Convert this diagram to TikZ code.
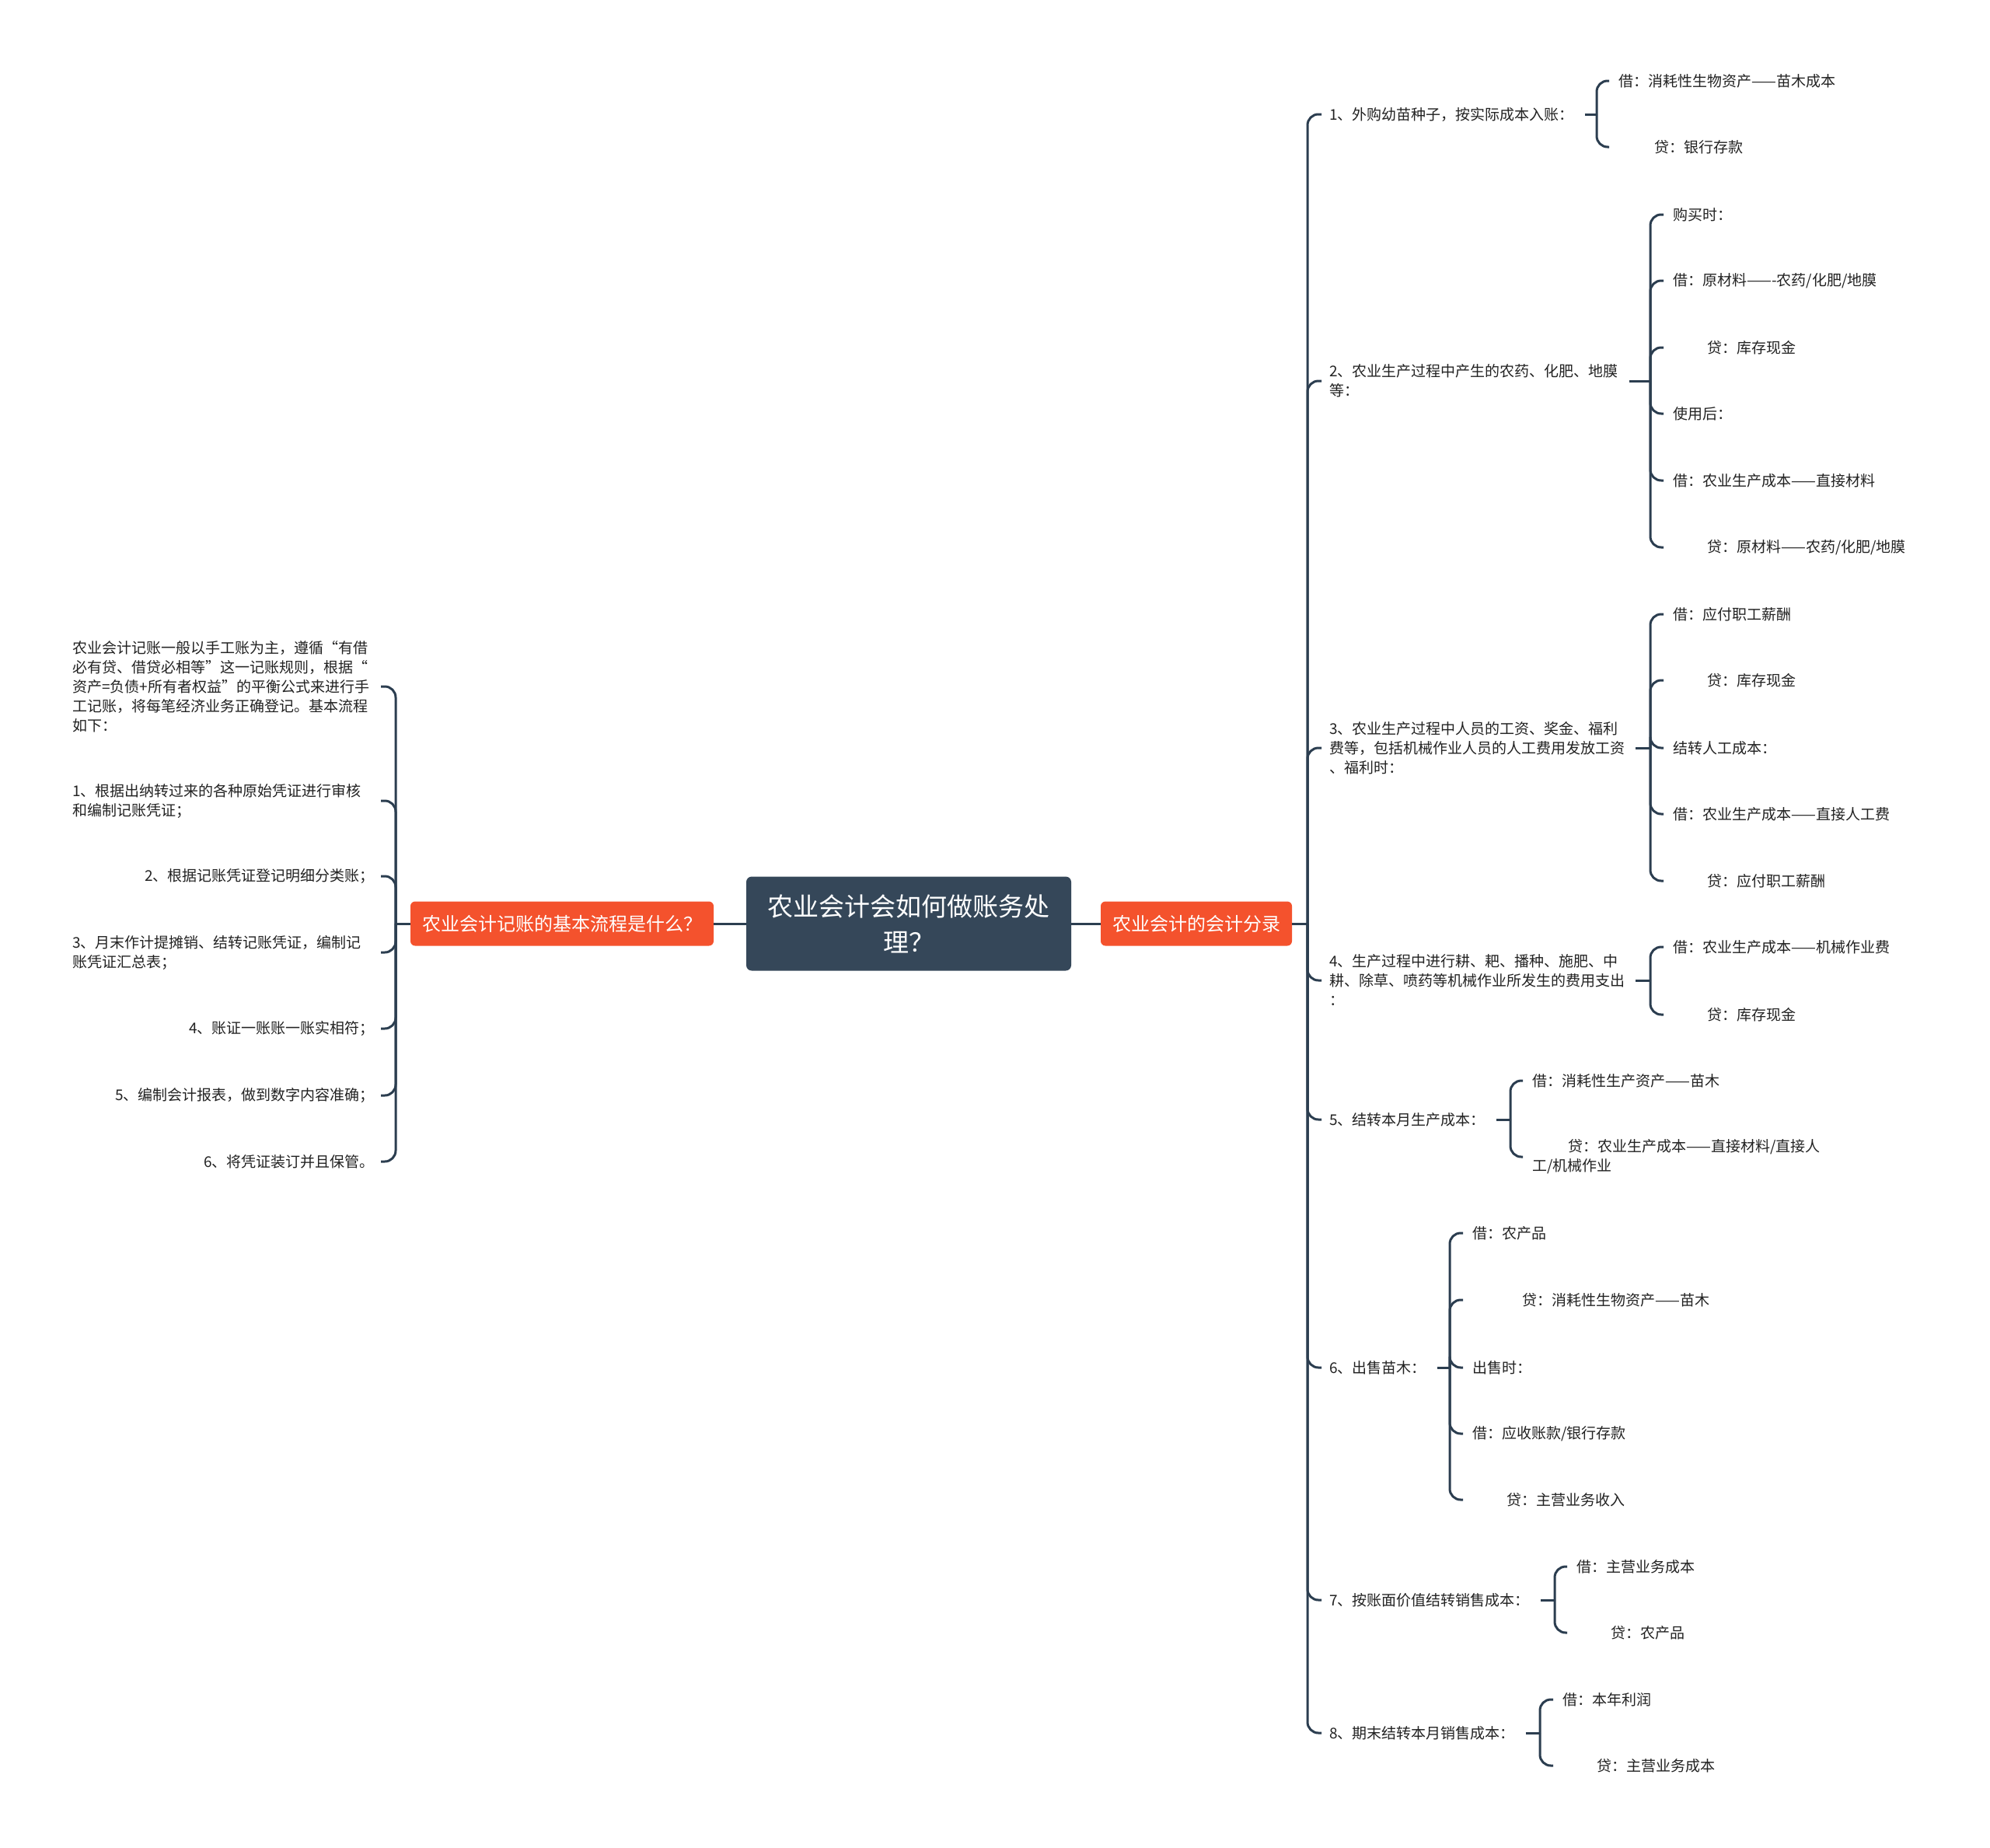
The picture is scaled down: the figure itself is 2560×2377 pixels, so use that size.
\documentclass[tikz,border=0pt]{standalone}
\usepackage{fontspec}
\setmainfont{Noto Sans CJK SC}
\usetikzlibrary{positioning, calc}
\definecolor{scuro}{RGB}{53,71,89}
\definecolor{arancio}{RGB}{244,82,45}
\definecolor{linea}{RGB}{44,62,80}
\definecolor{testo}{RGB}{34,34,34}

\begin{document}
\begin{tikzpicture}[x=1pt, y=-1pt,
    ramo/.style={draw=linea, line width=3pt, rounded corners=14pt},
    radice/.style={fill=scuro, rounded corners=7pt, text=white, align=center, font=\fontsize{33}{46}\selectfont, minimum width=418pt, minimum height=121pt},
    tema/.style={fill=arancio, rounded corners=6pt, text=white, font=\fontsize{24}{30}\selectfont, minimum height=57pt, inner xsep=15pt},
    voce/.style={anchor=west, inner sep=0pt, text=testo, align=left, font=\fontsize{19}{25}\selectfont},
    vocesx/.style={voce, anchor=east}]
    %sfondo
    \fill[white] (0,0) rectangle (2560,2377);
    \useasboundingbox (0,0) rectangle (2560,2377);
    %nodo centrale e temi
    \node[radice] (radice) at (1169,1188) {农业会计会如何做账务处\\理？};
    \node[tema] (flusso) at (723,1188) {农业会计记账的基本流程是什么？};
    \node[tema] (scritture) at (1539,1188) {农业会计的会计分录};
    \draw[ramo] (radice.west) -- (flusso.east);
    \draw[ramo] (radice.east) -- (scritture.west);
    %lato sinistro
    \coordinate (bsx) at (509,1188);
    \coordinate (xsx) at (490,0);
    \node[voce] (s0) at (93,883) {农业会计记账一般以手工账为主，遵循“有借\\必有贷、借贷必相等”这一记账规则，根据“\\资产=负债+所有者权益”的平衡公式来进行手\\工记账，将每笔经济业务正确登记。基本流程\\如下：};
    \node[voce] (s1) at (93,1030) {1、根据出纳转过来的各种原始凭证进行审核\\和编制记账凭证；};
    \node[vocesx] (s2) at (482,1127) {2、根据记账凭证登记明细分类账；};
    \node[voce] (s3) at (93,1225) {3、月末作计提摊销、结转记账凭证，编制记\\账凭证汇总表；};
    \node[vocesx] (s4) at (482,1323) {4、账证一账账一账实相符；};
    \node[vocesx] (s5) at (482,1409) {5、编制会计报表，做到数字内容准确；};
    \node[vocesx] (s6) at (482,1494) {6、将凭证装订并且保管。};
    \draw[ramo] (flusso.west) -- (bsx);
    \foreach \n in {s0,s1,s2,s3,s4,s5,s6}
        \draw[ramo] (bsx) |- (\n.east -| xsx);
    %lato destro, primo livello
    \coordinate (bdx) at (1682,1188);
    \node[voce] (d1) at (1710,147) {1、外购幼苗种子，按实际成本入账：};
    \node[voce] (d2) at (1710,490) {2、农业生产过程中产生的农药、化肥、地膜\\等：};
    \node[voce] (d3) at (1710,962) {3、农业生产过程中人员的工资、奖金、福利\\费等，包括机械作业人员的人工费用发放工资\\、福利时：};
    \node[voce] (d4) at (1710,1261) {4、生产过程中进行耕、耙、播种、施肥、中\\耕、除草、喷药等机械作业所发生的费用支出\\：};
    \node[voce] (d5) at (1710,1440) {5、结转本月生产成本：};
    \node[voce] (d6) at (1710,1759) {6、出售苗木：};
    \node[voce] (d7) at (1710,2058) {7、按账面价值结转销售成本：};
    \node[voce] (d8) at (1710,2229) {8、期末结转本月销售成本：};
    \draw[ramo] (scritture.east) -- (bdx);
    \foreach \n in {d1,d2,d3,d4,d5,d6,d7,d8}
        \draw[ramo] (bdx) |- ([xshift=-10pt]\n.west);
    %gruppo 1
    \coordinate (b1) at (2054,147);
    \node[voce] (d1a) at (2082,104) {借：消耗性生物资产——苗木成本};
    \node[voce] (d1b) at (2082,189) {\hspace*{46pt}贷：银行存款};
    %gruppo 2
    \coordinate (b2) at (2123,490);
    \node[voce] (d2a) at (2152,276) {购买时：};
    \node[voce] (d2b) at (2152,361) {借：原材料——-农药/化肥/地膜};
    \node[voce] (d2c) at (2152,447) {\hspace*{44pt}贷：库存现金};
    \node[voce] (d2d) at (2152,532) {使用后：};
    \node[voce] (d2e) at (2152,618) {借：农业生产成本——直接材料};
    \node[voce] (d2f) at (2152,704) {\hspace*{44pt}贷：原材料——农药/化肥/地膜};
    %gruppo 3
    \coordinate (b3) at (2123,962);
    \node[voce] (d3a) at (2152,790) {借：应付职工薪酬};
    \node[voce] (d3b) at (2152,875) {\hspace*{44pt}贷：库存现金};
    \node[voce] (d3c) at (2152,962) {结转人工成本：};
    \node[voce] (d3d) at (2152,1047) {借：农业生产成本——直接人工费};
    \node[voce] (d3e) at (2152,1133) {\hspace*{44pt}贷：应付职工薪酬};
    %gruppo 4
    \coordinate (b4) at (2123,1261);
    \node[voce] (d4a) at (2152,1218) {借：农业生产成本——机械作业费};
    \node[voce] (d4b) at (2152,1305) {\hspace*{44pt}贷：库存现金};
    %gruppo 5
    \coordinate (b5) at (1943,1440);
    \node[voce] (d5a) at (1971,1390) {借：消耗性生产资产——苗木};
    \node[voce] (d5b) at (1971,1488) {\hspace*{46pt}贷：农业生产成本——直接材料/直接人\\工/机械作业};
    %gruppo 6
    \coordinate (b6) at (1865,1759);
    \node[voce] (d6a) at (1894,1586) {借：农产品};
    \node[voce] (d6b) at (1894,1672) {\hspace*{64pt}贷：消耗性生物资产——苗木};
    \node[voce] (d6c) at (1894,1759) {出售时：};
    \node[voce] (d6d) at (1894,1844) {借：应收账款/银行存款};
    \node[voce] (d6e) at (1894,1929) {\hspace*{44pt}贷：主营业务收入};
    %gruppo 7
    \coordinate (b7) at (2000,2058);
    \node[voce] (d7a) at (2028,2015) {借：主营业务成本};
    \node[voce] (d7b) at (2028,2100) {\hspace*{44pt}贷：农产品};
    %gruppo 8
    \coordinate (b8) at (1981,2229);
    \node[voce] (d8a) at (2010,2186) {借：本年利润};
    \node[voce] (d8b) at (2010,2271) {\hspace*{44pt}贷：主营业务成本};
    %rami secondo livello
    \draw[ramo] ([xshift=14pt]d1.east) -- (b1);
    \foreach \n in {d1a,d1b}
        \draw[ramo] (b1) |- ([xshift=-12pt]\n.west);
    \draw[ramo] ([xshift=14pt]d2.east) -- (b2);
    \foreach \n in {d2a,d2b,d2c,d2d,d2e,d2f}
        \draw[ramo] (b2) |- ([xshift=-12pt]\n.west);
    \draw[ramo] ([xshift=14pt]d3.east) -- (b3);
    \foreach \n in {d3a,d3b,d3c,d3d,d3e}
        \draw[ramo] (b3) |- ([xshift=-12pt]\n.west);
    \draw[ramo] ([xshift=14pt]d4.east) -- (b4);
    \foreach \n in {d4a,d4b}
        \draw[ramo] (b4) |- ([xshift=-12pt]\n.west);
    \draw[ramo] ([xshift=14pt]d5.east) -- (b5);
    \foreach \n in {d5a,d5b}
        \draw[ramo] (b5) |- ([xshift=-12pt]\n.west);
    \draw[ramo] ([xshift=14pt]d6.east) -- (b6);
    \foreach \n in {d6a,d6b,d6c,d6d,d6e}
        \draw[ramo] (b6) |- ([xshift=-12pt]\n.west);
    \draw[ramo] ([xshift=14pt]d7.east) -- (b7);
    \foreach \n in {d7a,d7b}
        \draw[ramo] (b7) |- ([xshift=-12pt]\n.west);
    \draw[ramo] ([xshift=14pt]d8.east) -- (b8);
    \foreach \n in {d8a,d8b}
        \draw[ramo] (b8) |- ([xshift=-12pt]\n.west);
\end{tikzpicture}
\end{document}
